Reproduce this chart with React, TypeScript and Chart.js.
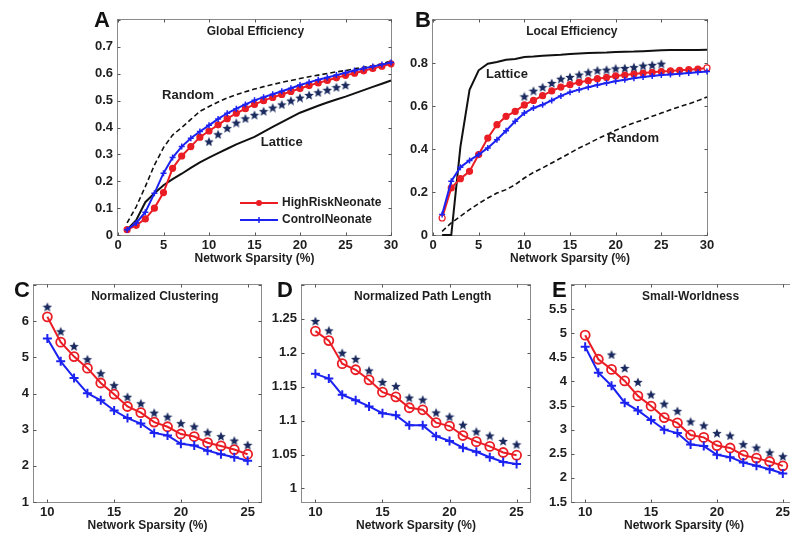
import React, { useEffect, useRef } from "react";
import { Chart, registerables } from "chart.js";
Chart.register(...registerables);

// ---------- DATA ----------
const sparsityAB = [1, 2, 3, 4, 5, 6, 7, 8, 9, 10, 11, 12, 13, 14, 15, 16, 17, 18, 19, 20, 21, 22, 23, 24, 25, 26, 27, 28, 29, 30];
const starSparsityAB = [10, 11, 12, 13, 14, 15, 16, 17, 18, 19, 20, 21, 22, 23, 24, 25];
const sparsityCDE = [10, 11, 12, 13, 14, 15, 16, 17, 18, 19, 20, 21, 22, 23, 24, 25];
const starSparsityE = [12, 13, 14, 15, 16, 17, 18, 19, 20, 21, 22, 23, 24, 25];

// A: Global Efficiency
const geHighRisk = [0.02, 0.036, 0.06, 0.1, 0.158, 0.248, 0.294, 0.329, 0.364, 0.387, 0.41, 0.433, 0.453, 0.47, 0.486, 0.5, 0.512, 0.523, 0.534, 0.545, 0.556, 0.566, 0.575, 0.585, 0.594, 0.602, 0.611, 0.62, 0.628, 0.637];
const geControl = [0.02, 0.045, 0.085, 0.155, 0.23, 0.288, 0.329, 0.36, 0.385, 0.408, 0.432, 0.453, 0.47, 0.486, 0.501, 0.513, 0.524, 0.535, 0.546, 0.558, 0.568, 0.578, 0.586, 0.595, 0.604, 0.612, 0.62, 0.627, 0.634, 0.642];
const geRandom = [0.045, 0.105, 0.18, 0.26, 0.325, 0.372, 0.4, 0.43, 0.46, 0.478, 0.495, 0.51, 0.522, 0.533, 0.543, 0.552, 0.56, 0.568, 0.575, 0.582, 0.589, 0.595, 0.601, 0.607, 0.612, 0.618, 0.624, 0.63, 0.637, 0.648];
const geLattice = [0.02, 0.055, 0.122, 0.155, 0.185, 0.208, 0.228, 0.25, 0.27, 0.288, 0.305, 0.321, 0.337, 0.351, 0.365, 0.384, 0.402, 0.42, 0.438, 0.455, 0.468, 0.481, 0.493, 0.504, 0.515, 0.527, 0.539, 0.551, 0.563, 0.575];
const geStars = [0.348, 0.375, 0.398, 0.418, 0.434, 0.447, 0.461, 0.474, 0.486, 0.5, 0.511, 0.521, 0.531, 0.54, 0.55, 0.558];

// B: Local Efficiency
const leHighRisk = [0.079, 0.219, 0.262, 0.296, 0.374, 0.451, 0.513, 0.552, 0.575, 0.605, 0.626, 0.648, 0.67, 0.688, 0.699, 0.71, 0.718, 0.727, 0.733, 0.74, 0.744, 0.749, 0.753, 0.757, 0.76, 0.763, 0.766, 0.769, 0.772, 0.777];
const leControl = [0.095, 0.25, 0.315, 0.347, 0.374, 0.405, 0.443, 0.485, 0.529, 0.567, 0.591, 0.606, 0.626, 0.647, 0.664, 0.676, 0.687, 0.698, 0.707, 0.715, 0.722, 0.729, 0.735, 0.74, 0.744, 0.747, 0.75, 0.753, 0.757, 0.761];
const leRandom = [0.017, 0.056, 0.087, 0.118, 0.146, 0.172, 0.195, 0.211, 0.234, 0.265, 0.291, 0.312, 0.335, 0.358, 0.381, 0.405, 0.425, 0.447, 0.467, 0.487, 0.505, 0.521, 0.536, 0.552, 0.567, 0.583, 0.597, 0.61, 0.625, 0.642];
const leLattice = [0, 0, 0.41, 0.675, 0.766, 0.797, 0.805, 0.815, 0.819, 0.828, 0.83, 0.834, 0.836, 0.838, 0.842, 0.844, 0.846, 0.848, 0.849, 0.851, 0.852, 0.853, 0.855, 0.857, 0.859, 0.86, 0.86, 0.861, 0.861, 0.862];
const leStars = [0.645, 0.671, 0.688, 0.707, 0.727, 0.735, 0.746, 0.757, 0.766, 0.769, 0.775, 0.777, 0.781, 0.788, 0.791, 0.797];

// C: Normalized Clustering
const ncHighRisk = [6.12, 5.42, 5.02, 4.7, 4.29, 3.98, 3.64, 3.47, 3.21, 3.08, 2.88, 2.81, 2.64, 2.55, 2.45, 2.32];
const ncControl = [5.52, 4.89, 4.43, 4.01, 3.81, 3.53, 3.32, 3.17, 2.91, 2.84, 2.61, 2.56, 2.42, 2.32, 2.24, 2.14];
const ncStars = [6.4, 5.72, 5.31, 4.95, 4.56, 4.23, 3.91, 3.73, 3.47, 3.36, 3.18, 3.09, 2.93, 2.82, 2.7, 2.58];

// D: Normalized Path Length
const plHighRisk = [1.232, 1.218, 1.184, 1.175, 1.16, 1.142, 1.135, 1.119, 1.116, 1.097, 1.092, 1.078, 1.069, 1.062, 1.053, 1.049];
const plControl = [1.169, 1.162, 1.138, 1.13, 1.121, 1.111, 1.108, 1.093, 1.093, 1.077, 1.07, 1.06, 1.054, 1.046, 1.039, 1.036];
const plStars = [1.247, 1.233, 1.2, 1.191, 1.174, 1.157, 1.151, 1.134, 1.131, 1.112, 1.106, 1.094, 1.084, 1.078, 1.07, 1.065];

// E: Small-Worldness
const swHighRisk = [4.96, 4.46, 4.25, 4.01, 3.7, 3.49, 3.25, 3.14, 2.89, 2.84, 2.67, 2.62, 2.47, 2.41, 2.34, 2.25];
const swControl = [4.72, 4.18, 3.91, 3.56, 3.4, 3.2, 3.0, 2.93, 2.69, 2.66, 2.48, 2.43, 2.32, 2.25, 2.18, 2.09];
const swStars = [4.56, 4.28, 3.99, 3.73, 3.54, 3.39, 3.17, 3.09, 2.93, 2.88, 2.7, 2.63, 2.53, 2.45];

// Tick labels
const xTicksAB = [0, 5, 10, 15, 20, 25, 30];
const xTicksCDE = [10, 15, 20, 25];
const yTicksA = [0, 0.1, 0.2, 0.3, 0.4, 0.5, 0.6, 0.7, 0.8];
const yTicksB = [0, 0.2, 0.4, 0.6, 0.8, 1];
const yTicksC = [1, 2, 3, 4, 5, 6, 7];
const yTicksD = [1, 1.05, 1.1, 1.15, 1.2, 1.25, 1.3];
const yTicksE = [1.5, 2, 2.5, 3, 3.5, 4, 4.5, 5, 5.5, 6];

const X_TITLE = "Network Sparsity (%)";
const LEGEND_NAMES = ["HighRiskNeonate", "ControlNeonate"];

// ---------- STYLE ----------
const FONT = "'Liberation Sans', Arial, sans-serif";
const RED = "#ea1d25";
const BLUE = "#1c22f0";
const STAR = "#1b2a5e";
const TXT = "#1e1e1e";
const Y_AXIS_W = 54;
const X_AXIS_H = 31;
const PAD_T = 10;
const PAD_R = 14;

function makeStar(size: number, color: string) {
  const c = document.createElement("canvas");
  c.width = size;
  c.height = size;
  const ctx = c.getContext("2d")!;
  ctx.fillStyle = color;
  ctx.beginPath();
  const cx = size / 2, cy = size / 2 + 0.6, R = size / 2, r = R * 0.45;
  for (let i = 0; i < 10; i++) {
    const a = -Math.PI / 2 + (i * Math.PI) / 5;
    const rad = i % 2 ? r : R;
    ctx.lineTo(cx + rad * Math.cos(a), cy + rad * Math.sin(a));
  }
  ctx.closePath();
  ctx.fill();
  return c;
}

const pts = (xs: number[], ys: number[]) => xs.map((x, i) => ({ x, y: ys[i] }));
const fmt = (v: number) => String(Number(v.toFixed(3)));

type Note = { text: string; x: number; y: number };
type Panel = {
  letter: string;
  L: number; T: number; R: number; B: number;
  xMin: number; xMax: number; yMin: number; yMax: number;
  xTicks: number[]; yTicks: number[]; hideY: number[];
  title: string; titleX: number;
  notes: Note[];
  legend: boolean;
  series: any[];
  letterPos: { left: number; top: number };
};

function seriesTop(x: number[], hr: number[], ct: number[], sx: number[], st: number[], rnd: number[], lat: number[], openEnds: boolean) {
  const star = makeStar(10, STAR);
  const redBg = hr.map((_, i) => (openEnds && (i === 0 || i === hr.length - 1) ? "#ffffff" : RED));
  return [
    { label: "Lattice", data: pts(x, lat), borderColor: "#111", borderWidth: 2, pointRadius: 0, order: 4 },
    { label: "Random", data: pts(x, rnd), borderColor: "#111", borderWidth: 1.6, borderDash: [5, 3], pointRadius: 0, order: 3 },
    { label: LEGEND_NAMES[0], data: pts(x, hr), borderColor: RED, borderWidth: 2, pointRadius: 3, pointBackgroundColor: redBg, pointBorderColor: RED, pointBorderWidth: 1.2, order: 2 },
    { label: LEGEND_NAMES[1], data: pts(x, ct), borderColor: BLUE, borderWidth: 2, pointStyle: "cross", pointRadius: 3, pointBorderColor: BLUE, pointBorderWidth: 1.5, order: 1 },
    { label: "p<0.05", data: pts(sx, st), showLine: false, pointStyle: star, pointRadius: 5, order: 0 },
  ];
}

function seriesBottom(x: number[], hr: number[], ct: number[], sx: number[], st: number[]) {
  const star = makeStar(10, STAR);
  return [
    { label: LEGEND_NAMES[0], data: pts(x, hr), borderColor: RED, borderWidth: 2, pointRadius: 4.5, pointBackgroundColor: "rgba(255,255,255,0)", pointBorderColor: RED, pointBorderWidth: 1.8, order: 2 },
    { label: LEGEND_NAMES[1], data: pts(x, ct), borderColor: BLUE, borderWidth: 2, pointStyle: "cross", pointRadius: 4.5, pointBorderColor: BLUE, pointBorderWidth: 2, order: 1 },
    { label: "p<0.05", data: pts(sx, st), showLine: false, pointStyle: star, pointRadius: 5, order: 0 },
  ];
}

function buildPanels(): Panel[] {
  return [
    {
      letter: "A", L: 118, T: 20, R: 391, B: 235, xMin: 0, xMax: 30, yMin: 0, yMax: 0.8,
      xTicks: xTicksAB, yTicks: yTicksA, hideY: [0.8], title: "Global Efficiency", titleX: 15.1,
      notes: [{ text: "Random", x: 7.7, y: 0.52 }, { text: "Lattice", x: 18, y: 0.345 }],
      legend: true,
      series: seriesTop(sparsityAB, geHighRisk, geControl, starSparsityAB, geStars, geRandom, geLattice, false),
      letterPos: { left: 94, top: 9 },
    },
    {
      letter: "B", L: 433, T: 20, R: 707, B: 235, xMin: 0, xMax: 30, yMin: 0, yMax: 1,
      xTicks: xTicksAB, yTicks: yTicksB, hideY: [1], title: "Local Efficiency", titleX: 15.2,
      notes: [{ text: "Lattice", x: 8.1, y: 0.746 }, { text: "Random", x: 21.9, y: 0.447 }],
      legend: false,
      series: seriesTop(sparsityAB, leHighRisk, leControl, starSparsityAB, leStars, leRandom, leLattice, true),
      letterPos: { left: 415, top: 9 },
    },
    {
      letter: "C", L: 34, T: 285, R: 261, B: 502, xMin: 9, xMax: 26, yMin: 1, yMax: 7,
      xTicks: xTicksCDE, yTicks: yTicksC, hideY: [7], title: "Normalized Clustering", titleX: 18.05,
      notes: [], legend: false,
      series: seriesBottom(sparsityCDE, ncHighRisk, ncControl, sparsityCDE, ncStars),
      letterPos: { left: 14, top: 279 },
    },
    {
      letter: "D", L: 302, T: 285, R: 530, B: 502, xMin: 9, xMax: 26, yMin: 0.98, yMax: 1.3,
      xTicks: xTicksCDE, yTicks: yTicksD, hideY: [1.3], title: "Normalized Path Length", titleX: 18.0,
      notes: [], legend: false,
      series: seriesBottom(sparsityCDE, plHighRisk, plControl, sparsityCDE, plStars),
      letterPos: { left: 277, top: 279 },
    },
    {
      letter: "E", L: 572, T: 285, R: 796, B: 502, xMin: 9, xMax: 26, yMin: 1.5, yMax: 6,
      xTicks: xTicksCDE, yTicks: yTicksE, hideY: [6], title: "Small-Worldness", titleX: 18.0,
      notes: [], legend: false,
      series: seriesBottom(sparsityCDE, swHighRisk, swControl, starSparsityE, swStars),
      letterPos: { left: 552, top: 279 },
    },
  ];
}

function framePlugin(p: Panel) {
  return {
    id: "frame" + p.letter,
    beforeDatasetsDraw(chart: any) {
      const { ctx, chartArea: a, scales } = chart;
      const xs = scales.x, ys = scales.y;
      ctx.save();
      ctx.strokeStyle = "#8a8a8a";
      ctx.lineWidth = 1;
      const l = Math.round(a.left) - 0.5, r = Math.round(a.right) + 0.5;
      const t = Math.round(a.top) - 0.5, b = Math.round(a.bottom) + 0.5;
      ctx.strokeRect(l, t, r - l, b - t);
      ctx.strokeStyle = "#555";
      ctx.beginPath();
      const tl = 3;
      p.xTicks.forEach((v) => {
        const px = Math.round(xs.getPixelForValue(v)) + 0.5;
        ctx.moveTo(px, b); ctx.lineTo(px, b - tl);
        ctx.moveTo(px, t); ctx.lineTo(px, t + tl);
      });
      p.yTicks.forEach((v) => {
        const py = Math.round(ys.getPixelForValue(v)) + 0.5;
        ctx.moveTo(l, py); ctx.lineTo(l + tl, py);
        ctx.moveTo(r, py); ctx.lineTo(r - tl, py);
      });
      ctx.stroke();
      ctx.restore();
    },
    afterDatasetsDraw(chart: any) {
      const { ctx, chartArea: a, scales } = chart;
      const xs = scales.x, ys = scales.y;
      ctx.save();
      ctx.fillStyle = TXT;
      ctx.textBaseline = "middle";
      ctx.textAlign = "center";
      ctx.font = `bold 12px ${FONT}`;
      ctx.fillText(p.title, xs.getPixelForValue(p.titleX), a.top + 12);
      ctx.font = `bold 13px ${FONT}`;
      p.notes.forEach((n) => ctx.fillText(n.text, xs.getPixelForValue(n.x), ys.getPixelForValue(n.y)));
      if (p.legend) {
        const ds = chart.data.datasets;
        const rows = [
          { d: ds[2], y: a.top + 183, kind: "circle" },
          { d: ds[3], y: a.top + 200, kind: "cross" },
        ];
        ctx.textAlign = "left";
        ctx.font = `bold 12px ${FONT}`;
        rows.forEach((row) => {
          const x0 = a.left + 122, x1 = a.left + 160, xm = a.left + 141;
          ctx.strokeStyle = row.d.borderColor;
          ctx.lineWidth = 2;
          ctx.beginPath();
          ctx.moveTo(x0, row.y); ctx.lineTo(x1, row.y);
          ctx.stroke();
          if (row.kind === "circle") {
            ctx.fillStyle = row.d.borderColor;
            ctx.beginPath();
            ctx.arc(xm, row.y, 3, 0, Math.PI * 2);
            ctx.fill();
          } else {
            ctx.lineWidth = 1.5;
            ctx.beginPath();
            ctx.moveTo(xm - 3, row.y); ctx.lineTo(xm + 3, row.y);
            ctx.moveTo(xm, row.y - 3); ctx.lineTo(xm, row.y + 3);
            ctx.stroke();
          }
          ctx.fillStyle = TXT;
          ctx.fillText(row.d.label, a.left + 164, row.y);
        });
      }
      ctx.restore();
    },
  };
}

function PanelChart({ p }: { p: Panel }) {
  const ref = useRef<HTMLCanvasElement>(null);
  const cw = p.R - p.L + Y_AXIS_W + PAD_R;
  const ch = p.B - p.T + PAD_T + X_AXIS_H;
  useEffect(() => {
    const tickFont = { family: FONT, size: 13, weight: "bold" as const };
    const chart = new Chart(ref.current!, {
      type: "line",
      data: { datasets: p.series.map((s) => ({ ...s, clip: false, tension: 0, fill: false })) },
      plugins: [framePlugin(p)],
      options: {
        responsive: false,
        animation: false,
        events: [],
        layout: { padding: { top: PAD_T, right: PAD_R, left: 0, bottom: 0 } },
        plugins: { legend: { display: false }, tooltip: { enabled: false }, title: { display: false } },
        scales: {
          x: {
            type: "linear",
            min: p.xMin,
            max: p.xMax,
            afterBuildTicks: (s: any) => { s.ticks = p.xTicks.map((v) => ({ value: v })); },
            afterFit: (s: any) => { s.height = X_AXIS_H; s.paddingLeft = 0; s.paddingRight = 0; },
            grid: { display: false, drawTicks: false, tickLength: 0 },
            border: { display: false },
            ticks: { padding: 3, font: tickFont, color: TXT, maxRotation: 0, autoSkip: false, callback: (v: any) => fmt(Number(v)) },
            title: { display: true, text: X_TITLE, font: { family: FONT, size: 12, weight: "bold" }, color: TXT, padding: 0 },
          },
          y: {
            type: "linear",
            min: p.yMin,
            max: p.yMax,
            afterBuildTicks: (s: any) => { s.ticks = p.yTicks.map((v) => ({ value: v })); },
            afterFit: (s: any) => { s.width = Y_AXIS_W; s.paddingTop = 0; s.paddingBottom = 0; },
            grid: { display: false, drawTicks: false, tickLength: 0 },
            border: { display: false },
            ticks: {
              padding: 5, font: tickFont, color: TXT, autoSkip: false,
              callback: (v: any) => (p.hideY.some((h) => Math.abs(h - Number(v)) < 1e-9) ? "" : fmt(Number(v))),
            },
          },
        },
      } as any,
    });
    return () => chart.destroy();
  }, []);
  return (
    <>
      <canvas
        ref={ref}
        width={cw}
        height={ch}
        style={{ position: "absolute", left: p.L - Y_AXIS_W, top: p.T - PAD_T, width: cw, height: ch }}
      />
      <div
        style={{
          position: "absolute", left: p.letterPos.left, top: p.letterPos.top,
          font: `bold 22px ${FONT}`, lineHeight: "22px", color: "#111",
        }}
      >
        {p.letter}
      </div>
    </>
  );
}

export default function App() {
  const panels = buildPanels();
  return (
    <div style={{ position: "fixed", left: 0, top: 0, width: 790, height: 535, overflow: "hidden", background: "#fff" }}>
      {panels.map((p) => (
        <PanelChart key={p.letter} p={p} />
      ))}
    </div>
  );
}
